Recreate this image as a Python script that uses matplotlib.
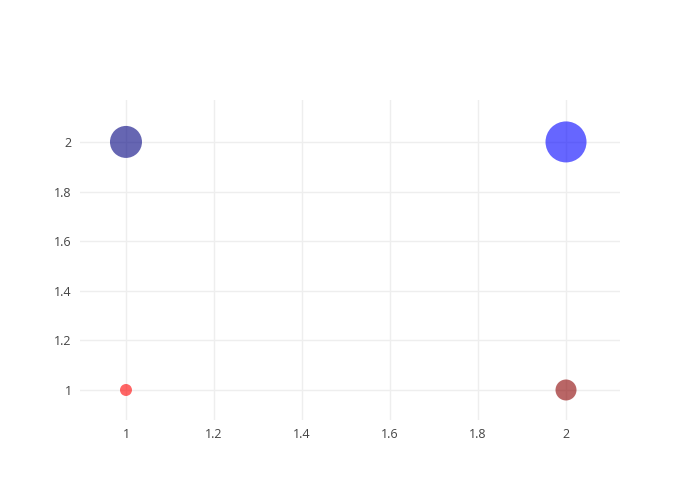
import matplotlib.pyplot as plt
import numpy as np

x = [1, 2, 1, 2]
y = [2, 2, 1, 1]
diam_px = [32, 41, 12, 21]
colors = ['navy', 'blue', 'red', 'darkred']

plt.rcParams['font.family'] = ['Open Sans', 'DejaVu Sans']

fig = plt.figure(figsize=(7, 5), dpi=100)
ax = fig.add_axes([80/700, 80/500, 540/700, 320/500])

sizes = [(d * 72 / 100) ** 2 for d in diam_px]
ax.scatter(x, y, s=sizes, c=colors, alpha=0.6, linewidths=0, zorder=3)

ax.set_xlim(0.8955, 2.1227)
ax.set_ylim(0.879, 2.169)
ax.set_xticks([1, 1.2, 1.4, 1.6, 1.8, 2])
ax.set_xticklabels(['1', '1.2', '1.4', '1.6', '1.8', '2'])
ax.set_yticks([1, 1.2, 1.4, 1.6, 1.8, 2])
ax.set_yticklabels(['1', '1.2', '1.4', '1.6', '1.8', '2'])
ax.grid(True, color='#eeeeee', linewidth=1, zorder=0)
ax.set_axisbelow(True)
for sp in ax.spines.values():
    sp.set_visible(False)
ax.tick_params(length=0, labelsize=9, labelcolor='#444444', pad=6)

fig.savefig('out.png', dpi=100)
